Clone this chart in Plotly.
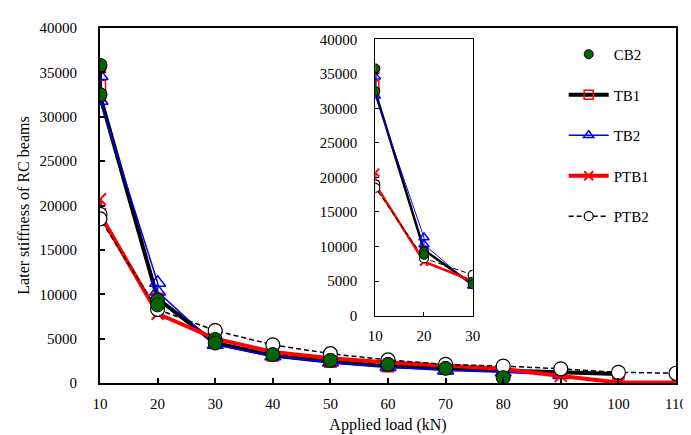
import plotly.graph_objects as go

# ---- data ----
cb2_x = [10, 10, 20, 20, 30, 30, 40, 50, 60, 70, 80]
cb2_y = [35800, 32500, 9300, 8800, 4900, 4500, 3200, 2550, 2100, 1650, 600]

tb1_x = [10, 10, 10, 20, 30, 40, 50, 60, 70, 80, 90, 100]
tb1_y = [35600, 33500, 32400, 9500, 4500, 3100, 2400, 1900, 1600, 1400, 1200, 1000]

tb2_x = [10, 10, 20, 20, 30, 40, 50, 60, 70, 80, 90, 100, 110]
tb2_y = [34600, 31800, 11300, 10300, 4300, 3000, 2300, 1800, 1400, 1200, 900, 0, 0]

ptb1_x = [10, 10, 20, 30, 40, 50, 60, 70, 80, 90, 100, 110]
ptb1_y = [20700, 19000, 7800, 5000, 3500, 2800, 2300, 1900, 1600, 800, 50, 50]

ptb2_x = [10, 10, 20, 30, 40, 50, 60, 70, 80, 90, 100, 110]
ptb2_y = [19000, 18500, 8300, 5900, 4300, 3300, 2600, 2100, 1900, 1600, 1200, 1100]

x_ticks = [10, 20, 30, 40, 50, 60, 70, 80, 90, 100, 110]
y_ticks = [0, 5000, 10000, 15000, 20000, 25000, 30000, 35000, 40000]
y_tick_labels = ["0", "5000", "10000", "15000", "20000", "25000", "30000", "35000", "40000"]
inset_x_ticks = [10, 20, 30]

FONT = "Liberation Serif"

STYLES = {
    "TB1": dict(line=dict(color="black", width=4), sline=2.5,
                marker=dict(symbol="square-open", color="red", line=dict(width=1.5, color="red")),
                size=11, ssize=7, lsize=9),
    "TB2": dict(line=dict(color="blue", width=1.5), sline=1,
                marker=dict(symbol="triangle-up-open", color="blue", line=dict(width=1.5, color="blue")),
                size=14, ssize=9, lsize=9),
    "PTB1": dict(line=dict(color="red", width=4), sline=2.5,
                 marker=dict(symbol="x-thin-open", color="red", line=dict(width=2, color="red")),
                 size=12, ssize=8, lsize=9),
    "PTB2": dict(line=dict(color="black", width=1.5, dash="5px,3px"), sline=1,
                 marker=dict(symbol="circle", color="white", line=dict(width=1.2, color="black")),
                 size=14, ssize=9, lsize=9),
    "CB2": dict(line=None, sline=None,
                marker=dict(symbol="circle", color="#006400", line=dict(width=1, color="black")),
                size=14, ssize=9, lsize=9),
}

SERIES = [("TB1", tb1_x, tb1_y), ("TB2", tb2_x, tb2_y), ("PTB1", ptb1_x, ptb1_y),
          ("PTB2", ptb2_x, ptb2_y), ("CB2", cb2_x, cb2_y)]
RANK = {"CB2": 1, "TB1": 2, "TB2": 3, "PTB1": 4, "PTB2": 5}

fig = go.Figure()

for big, xa, ya in [(True, "x", "y"), (False, "x2", "y2")]:
    for name, xs, ys in SERIES:
        st = STYLES[name]
        mk = dict(st["marker"])
        mk["size"] = st["size"] if big else st["ssize"]
        if st["line"] is None:
            mode, ln = "markers", None
        else:
            mode = "lines+markers"
            ln = dict(st["line"])
            if not big:
                ln["width"] = st["sline"]
        fig.add_trace(go.Scatter(x=xs, y=ys, name=name, mode=mode, line=ln, marker=mk,
                                 xaxis=xa, yaxis=ya, showlegend=False))

# legend entries (small symbols like the reference legend)
for name, xs, ys in SERIES:
    st = STYLES[name]
    mk = dict(st["marker"])
    mk["size"] = st["lsize"]
    mode = "markers" if st["line"] is None else "lines+markers"
    fig.add_trace(go.Scatter(x=[None], y=[None], name=name, mode=mode, line=st["line"],
                             marker=mk, showlegend=True, legendrank=RANK[name],
                             legendgroup=name))

tickfont = dict(family=FONT, size=15, color="black")

fig.update_layout(
    width=691, height=435,
    margin=dict(l=92, r=12, t=20, b=52),
    paper_bgcolor="white", plot_bgcolor="white",
    font=dict(family=FONT, size=15, color="black"),
    showlegend=True,
    legend=dict(x=0.805, y=0.972, xanchor="left", yanchor="top",
                font=dict(family=FONT, size=15, color="black"),
                bgcolor="rgba(0,0,0,0)", tracegroupgap=18, itemwidth=40),
    xaxis=dict(range=[10, 110], tickvals=x_ticks, ticks="inside", ticklen=5,
               tickcolor="black", tickwidth=1.5,
               showline=True, linecolor="black", linewidth=2, mirror=True,
               showgrid=False, zeroline=False, tickfont=tickfont,
               ticklabelstandoff=6,
               title=dict(text="Applied load (kN)", font=dict(family=FONT, size=16), standoff=8)),
    yaxis=dict(range=[0, 40000], tickvals=y_ticks, ticktext=y_tick_labels, ticks="inside", ticklen=5,
               tickcolor="black", tickwidth=1.5,
               showline=True, linecolor="black", linewidth=2, mirror=True,
               showgrid=False, zeroline=False, tickfont=tickfont,
               ticklabelstandoff=18,
               title=dict(text="Later stiffness of RC beams", font=dict(family=FONT, size=16), standoff=6)),
    xaxis2=dict(domain=[0.478, 0.647], anchor="y2", range=[10, 30], tickvals=inset_x_ticks,
                ticks="inside", ticklen=4, tickcolor="black", tickwidth=1,
                showline=True, linecolor="black", linewidth=1, mirror=True,
                showgrid=False, zeroline=False, tickfont=tickfont, ticklabelstandoff=6),
    yaxis2=dict(domain=[0.19, 0.968], anchor="x2", range=[0, 40000], tickvals=y_ticks,
                ticktext=y_tick_labels,
                ticks="inside", ticklen=4, tickcolor="black", tickwidth=1,
                showline=True, linecolor="black", linewidth=1, mirror=True,
                showgrid=False, zeroline=False, tickfont=tickfont, ticklabelstandoff=14),
)

fig.write_html("out.html")
